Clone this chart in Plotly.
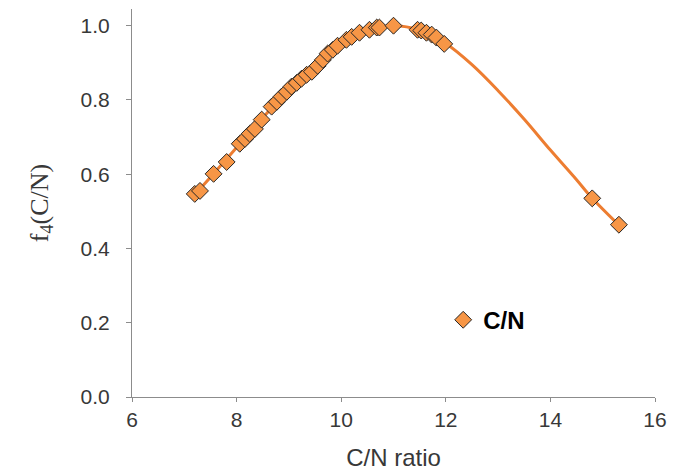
import plotly.graph_objects as go

# Marker data (C/N ratio, f4)
cn_ratio = [7.20, 7.30, 7.56, 7.81, 8.06, 8.16, 8.25, 8.35, 8.48, 8.67, 8.77, 8.86,
            8.96, 9.05, 9.15, 9.24, 9.34, 9.44, 9.55, 9.65, 9.74, 9.84, 9.93, 10.10,
            10.20, 10.35, 10.54, 10.68, 10.73, 11.00, 11.46, 11.53, 11.63, 11.73,
            11.82, 11.97, 14.80, 15.31]
f4_values = [0.547, 0.555, 0.601, 0.633, 0.682, 0.695, 0.709, 0.722, 0.747, 0.782, 0.795, 0.809,
             0.822, 0.836, 0.846, 0.857, 0.868, 0.876, 0.892, 0.908, 0.925, 0.935, 0.946, 0.962,
             0.970, 0.981, 0.989, 0.995, 0.995, 1.000, 0.989, 0.987, 0.981, 0.976,
             0.968, 0.951, 0.535, 0.464]

# Fitted curve
curve_x = [7.2, 7.5, 8.0, 8.5, 9.0, 9.5, 10.0, 10.5, 11.0, 11.5, 12.0, 12.5, 13.0,
           13.5, 14.0, 14.5, 14.8, 15.3]
curve_y = [0.545, 0.592, 0.672, 0.752, 0.828, 0.885, 0.952, 0.987, 1.0, 0.988, 0.952,
           0.895, 0.825, 0.748, 0.665, 0.585, 0.535, 0.464]

x_ticks = [6, 8, 10, 12, 14, 16]
y_ticks = [0.0, 0.2, 0.4, 0.6, 0.8, 1.0]
y_ticklabels = ["0.0", "0.2", "0.4", "0.6", "0.8", "1.0"]

fig = go.Figure()
fig.add_trace(go.Scatter(
    x=curve_x, y=curve_y, mode="lines", line=dict(color="#ED7D31", width=3, shape="spline"),
    showlegend=False, hoverinfo="skip"))
fig.add_trace(go.Scatter(
    x=cn_ratio, y=f4_values, mode="markers", name="<b>C/N</b>",
    marker=dict(symbol="diamond", size=13, color="#F79646",
                line=dict(color="#262626", width=1))))

axis_font = dict(family="Liberation Sans, Arial", size=21, color="#383838")
fig.update_layout(
    width=677, height=475,
    margin=dict(l=132, r=22, t=9, b=78),
    paper_bgcolor="white", plot_bgcolor="white",
    showlegend=True,
    legend=dict(x=0.595, y=0.198, xanchor="left", yanchor="middle",
                itemwidth=30,
                font=dict(family="Liberation Sans, Arial", size=24, color="#000000"),
                bgcolor="rgba(0,0,0,0)"),
    xaxis=dict(range=[6, 16], tickvals=x_ticks, showgrid=False, zeroline=False,
               showline=True, linecolor="#8C8C8C", linewidth=1,
               ticks="outside", ticklen=4, tickcolor="#8C8C8C",
               tickfont=axis_font, ticklabelstandoff=0,
               title=dict(text="C/N ratio", font=dict(family="Liberation Sans, Arial", size=24, color="#383838"),
                          standoff=18)),
    yaxis=dict(range=[0, 1.045], tickvals=y_ticks, ticktext=y_ticklabels, showgrid=False,
               zeroline=False, showline=True, linecolor="#8C8C8C", linewidth=1,
               ticks="outside", ticklen=5, tickcolor="#8C8C8C",
               tickfont=axis_font, ticklabelstandoff=12,
               title=dict(text="f<sub>4</sub>(C/N)", font=dict(family="Liberation Serif, Times New Roman", size=26, color="#383838"),
                          standoff=24)),
)

fig.write_html("out.html")
